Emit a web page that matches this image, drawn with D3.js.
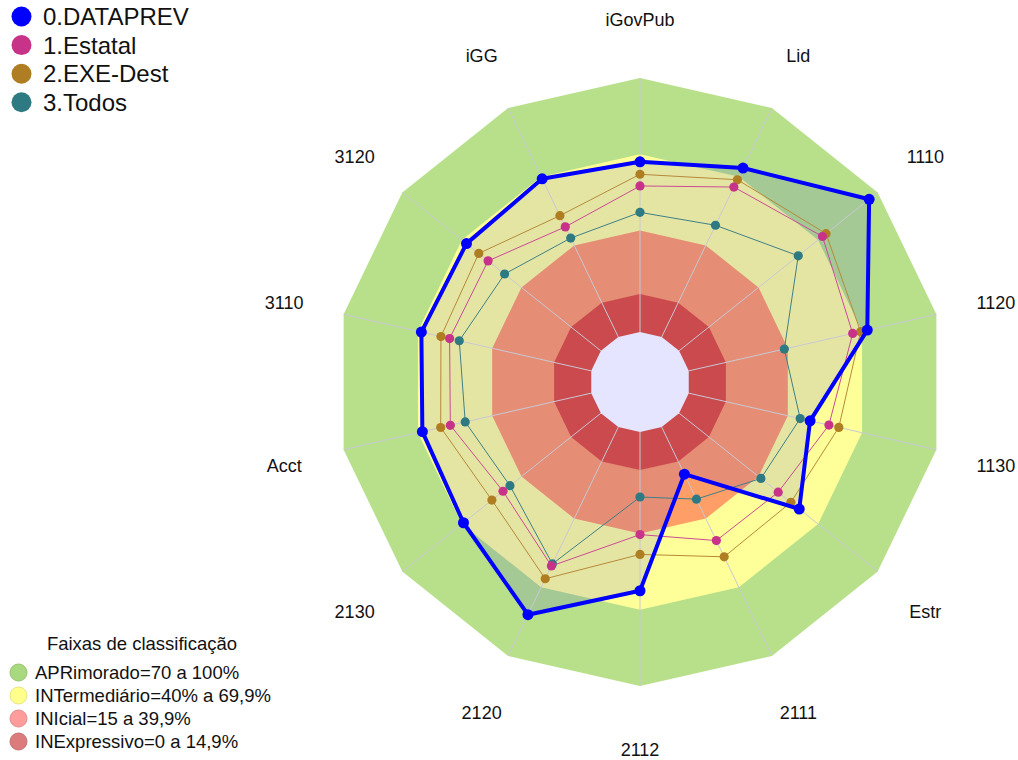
<!DOCTYPE html>
<html><head><meta charset="utf-8">
<script src="https://cdn.jsdelivr.net/npm/d3@7"></script>
<style>body{margin:0;background:#fff} text{font-family:Arial,"Liberation Sans",sans-serif;fill:#111}</style>
</head><body><svg id="c" width="1018" height="760"></svg>
<script>
const axes = ["iGovPub","Lid","1110","1120","1130","Estr","2111","2112","2120","2130","Acct","3110","3120","iGG"];
const seriesNames = ["0.DATAPREV","1.Estatal","2.EXE-Dest","3.Todos"];
const dataprev = [67.0, 73.8, 95.7, 72.1, 49.0, 60.5, 20.6, 62.5, 82.0, 69.2, 68.2, 68.6, 67.7, 69.1];
const estatal  = [57.5, 65.5, 72.2, 66.2, 56.6, 49.9, 49.6, 40.4, 60.7, 49.3, 56.9, 57.2, 56.8, 48.1];
const exeDest  = [62.1, 68.7, 74.0, 69.4, 60.6, 56.3, 56.7, 48.2, 66.3, 54.9, 60.8, 60.7, 61.5, 53.0];
const todos    = [47.1, 48.8, 60.0, 38.6, 45.0, 41.2, 31.5, 25.6, 59.8, 45.8, 50.9, 53.3, 48.5, 43.2];
const legendTitle = "Faixas de classificação";
const bandNames = ["APRimorado=70 a 100%","INTermediário=40% a 69,9%","INIcial=15 a 39,9%","INExpressivo=0 a 14,9%"];
const bandLimits = [100, 70, 40, 15, 0];

const seriesColors = ["#0000ff","#c8338a","#b07e22","#2e7a82"];
const lineColors = ["#0000ff","#cc4b96","#b58a3a","#3f8088"];
const bandColors = ["#b8e08a","#ffff99","#ff9e66","#e3533a","#ffffff"];
const legendBandColors = ["#a9d97f","#ffff8c","#ff9c9c","#dc7b7b"];

const svg = d3.select("#c");
const cx = 640, cy = 382;
const n = axes.length;
const r = d3.scaleLinear().domain([0, 100]).range([50, 304]);
const angle = d3.scaleLinear().domain([0, n]).range([0, 2 * Math.PI]);
const g = svg.append("g").attr("transform", `translate(${cx},${cy})`);

const radial = d3.lineRadial()
  .angle((d, i) => angle(i))
  .radius(d => r(d))
  .curve(d3.curveLinearClosed);

// bands
bandLimits.forEach((L, k) => {
  g.append("path")
    .attr("d", radial(axes.map(() => L)))
    .attr("fill", bandColors[k]);
});

// DATAPREV translucent fill
g.append("path")
  .attr("d", radial(dataprev))
  .attr("fill", "rgba(0,0,255,0.1)");

// spokes
axes.forEach((a, i) => {
  const t = angle(i);
  g.append("line")
    .attr("x1", r(0) * Math.sin(t)).attr("y1", -r(0) * Math.cos(t))
    .attr("x2", r(100) * Math.sin(t)).attr("y2", -r(100) * Math.cos(t))
    .attr("stroke", "#c8c8d4").attr("stroke-width", 1);
});

// series
const allSeries = [dataprev, estatal, exeDest, todos];
[3, 2, 1, 0].forEach(s => {
  const vals = allSeries[s];
  const main = s === 0;
  g.append("path")
    .attr("d", radial(vals))
    .attr("fill", "none")
    .attr("stroke", lineColors[s])
    .attr("stroke-width", main ? 4 : 1)
    .attr("stroke-linejoin", "round");
  g.selectAll(null).data(vals).enter().append("circle")
    .attr("cx", (d, i) => r(d) * Math.sin(angle(i)))
    .attr("cy", (d, i) => -r(d) * Math.cos(angle(i)))
    .attr("r", main ? 5.5 : 4.6)
    .attr("fill", seriesColors[s]);
});

// axis labels
axes.forEach((a, i) => {
  const t = angle(i);
  g.append("text")
    .attr("x", 365 * Math.sin(t))
    .attr("y", -365 * Math.cos(t) + 2.5)
    .attr("text-anchor", "middle")
    .attr("dominant-baseline", "central")
    .style("font-size", "18px")
    .text(a);
});

// series legend
const lg = svg.append("g");
seriesNames.forEach((nm, i) => {
  const y = 16.5 + i * 28.6;
  lg.append("circle").attr("cx", 21.5).attr("cy", y).attr("r", 10).attr("fill", seriesColors[i]);
  lg.append("text").attr("x", 43).attr("y", y).attr("dominant-baseline", "central")
    .style("font-size", "24px").text(nm);
});

// band legend
const bl = svg.append("g");
bl.append("text").attr("x", 142).attr("y", 643).attr("text-anchor", "middle")
  .attr("dominant-baseline", "central").style("font-size", "18.5px").text(legendTitle);
bandNames.forEach((nm, i) => {
  const y = 672.5 + i * 23;
  bl.append("circle").attr("cx", 18.5).attr("cy", y).attr("r", 8.5)
    .attr("fill", legendBandColors[i]).attr("stroke", d3.color(legendBandColors[i]).darker(0.3)).attr("stroke-width", 1);
  bl.append("text").attr("x", 35).attr("y", y).attr("dominant-baseline", "central")
    .style("font-size", "18.5px").text(nm);
});
</script></body></html>
